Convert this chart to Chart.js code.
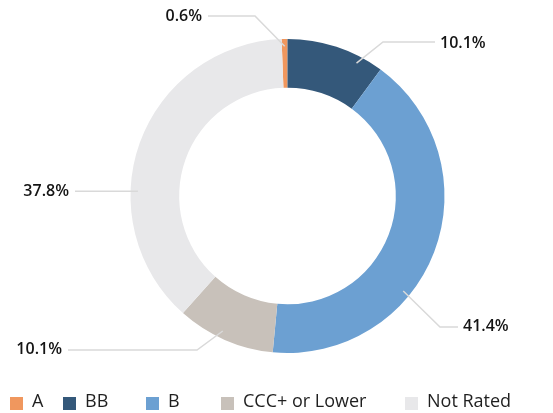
<!DOCTYPE html>
<html>
<head>
<meta charset="utf-8">
<script src="https://cdn.jsdelivr.net/npm/chart.js@4.4.1/dist/chart.umd.min.js"></script>
<style>
html,body{margin:0;padding:0;background:#fff;}
#wrap{width:553px;height:413px;position:relative;}
</style>
</head>
<body>
<div id="wrap"><canvas id="myChart"></canvas></div>
<script>
var categories = ["A", "BB", "B", "CCC+ or Lower", "Not Rated"];
var shares = [0.6, 10.1, 41.4, 10.1, 37.8];
var sliceColors = ['#f0975e', '#34587a', '#6ca0d2', '#c8c1ba', '#e8e8ea'];

// leader lines: frac = where along the slice the line touches, elbow = bend point, x/y = label spot
var labelLayout = [
  {frac: 0.5,   elbow: [255, 16],  x: 202, y: 16,  align: 'right'},
  {frac: 0.755, elbow: [383, 42],  x: 440, y: 43,  align: 'left'},
  {frac: 0.624, elbow: [440, 327], x: 463, y: 326, align: 'left'},
  {frac: 0.556, elbow: [197, 350], x: 62,  y: 349, align: 'right'},
  {frac: 0.368, elbow: null,       x: 69,  y: 191, align: 'right'}
];
// legend slots (left edge of each swatch)
var legendX = [10, 63, 146, 221, 405];

var outsideLabels = {
  id: 'outsideLabels',
  afterDraw: function(chart) {
    var ctx = chart.ctx;
    var arcs = chart.getDatasetMeta(0).data;
    ctx.save();
    arcs.forEach(function(arc, i) {
      var p = arc.getProps(['x', 'y', 'startAngle', 'endAngle', 'innerRadius', 'outerRadius'], true);
      var L = labelLayout[i];
      var ang = p.startAngle + L.frac * (p.endAngle - p.startAngle);
      var r = p.innerRadius + 0.85 * (p.outerRadius - p.innerRadius);
      var ax = p.x + Math.cos(ang) * r;
      var ay = p.y + Math.sin(ang) * r;
      var lineEnd = L.align == 'right' ? L.x + 6 : L.x - 5;
      ctx.strokeStyle = '#d9d9d9';
      ctx.lineWidth = 1.5;
      ctx.beginPath();
      ctx.moveTo(ax, ay);
      if (L.elbow) {
        ctx.lineTo(L.elbow[0], L.elbow[1]);
        ctx.lineTo(lineEnd, L.elbow[1]);
      } else {
        ctx.lineTo(lineEnd, ay);
      }
      ctx.stroke();
      ctx.fillStyle = '#141414';
      ctx.font = '600 16px "Open Sans"';
      ctx.textAlign = L.align;
      ctx.textBaseline = 'middle';
      ctx.fillText(shares[i].toFixed(1) + '%', L.x, L.y);
    });

    // legend
    ctx.font = '18px "Open Sans"';
    ctx.textAlign = 'left';
    ctx.textBaseline = 'middle';
    categories.forEach(function(name, i) {
      ctx.fillStyle = sliceColors[i];
      ctx.fillRect(legendX[i], 397, 13, 13);
      ctx.fillStyle = '#1f1f1f';
      ctx.fillText(name, legendX[i] + 22, 402);
    });
    ctx.restore();
  }
};

var ctx = document.getElementById("myChart").getContext('2d');
var donut = new Chart(ctx, {
  type: 'doughnut',
  data: {
    labels: categories,
    datasets: [{
      data: shares,
      backgroundColor: sliceColors,
      borderWidth: 0
    }]
  },
  options: {
    responsive: true,
    maintainAspectRatio: false,
    animation: false,
    cutout: '69%',
    rotation: -shares[0] * 3.6,
    layout: {padding: {top: 39, bottom: 60, left: 30, right: 8}},
    plugins: {
      legend: {display: false},
      tooltip: {enabled: false}
    }
  },
  plugins: [outsideLabels]
});
</script>
</body>
</html>
